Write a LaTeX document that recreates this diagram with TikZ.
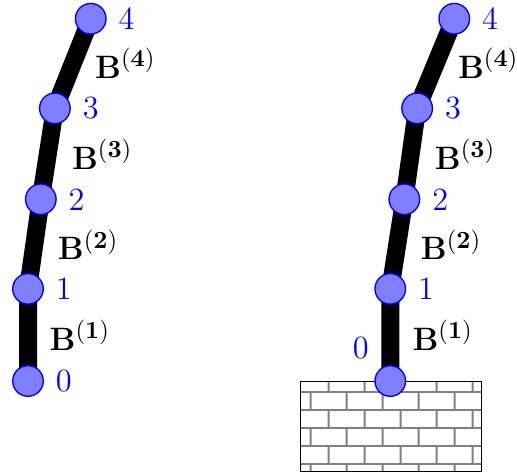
\documentclass[tikz,border=0pt]{standalone}
\usetikzlibrary{patterns,backgrounds,positioning}
\pgfdeclarepatternformonly{wallbricks}{\pgfpointorigin}{\pgfqpoint{16pt}{16pt}}{\pgfqpoint{16pt}{16pt}}{
    \pgfsetlinewidth{0.8pt}
    \pgfpathmoveto{\pgfqpoint{0pt}{5.33pt}}\pgfpathlineto{\pgfqpoint{16pt}{5.33pt}}
    \pgfpathmoveto{\pgfqpoint{0pt}{13.33pt}}\pgfpathlineto{\pgfqpoint{16pt}{13.33pt}}
    \pgfpathmoveto{\pgfqpoint{2.5pt}{5.33pt}}\pgfpathlineto{\pgfqpoint{2.5pt}{13.33pt}}
    \pgfpathmoveto{\pgfqpoint{10.5pt}{13.33pt}}\pgfpathlineto{\pgfqpoint{10.5pt}{16pt}}
    \pgfpathmoveto{\pgfqpoint{10.5pt}{0pt}}\pgfpathlineto{\pgfqpoint{10.5pt}{5.33pt}}
    \pgfusepath{stroke}
}
\tikzset{
    joint/.style={circle, draw=blue, fill=blue!50, semithick, minimum size=13.6pt, inner sep=0pt},
    beam/.style={line width=8pt},
    num/.style={text=blue, font=\Large, inner sep=0pt},
    stiff/.style={font=\fontsize{15.5}{18}\selectfont, inner sep=0pt}
}
\begin{document}
\begin{tikzpicture}
    \useasboundingbox (-0.4375,-1.484) rectangle (7.64,5.953);

    % Свободный стержень
    \node[joint] (a0) at (0,0) {};
    \node[joint] (a1) at (0,1.44) {};
    \node[joint] (a2) at (0.2,2.84) {};
    \node[joint] (a3) at (0.42,4.26) {};
    \node[joint] (a4) at (0.98,5.66) {};

    % Номера узлов
    \node[num, right=0.18cm of a0] (na0) {0};
    \node[num, right=0.18cm of a1] (na1) {1};
    \node[num, right=0.18cm of a2] (na2) {2};
    \node[num, right=0.18cm of a3] (na3) {3};
    \node[num, right=0.18cm of a4] (na4) {4};

    % Жёсткости
    \node[stiff] (ba1) at (0.81,0.71) {$\mathbf{B^{(1)}}$};
    \node[stiff] (ba2) at (0.94,2.13) {$\mathbf{B^{(2)}}$};
    \node[stiff] (ba3) at (1.16,3.54) {$\mathbf{B^{(3)}}$};
    \node[stiff] (ba4) at (1.52,4.96) {$\mathbf{B^{(4)}}$};

    % Закреплённый стержень
    \node[joint] (c0) at (5.66,0) {};
    \node[joint] (c1) at (5.66,1.44) {};
    \node[joint] (c2) at (5.88,2.84) {};
    \node[joint] (c3) at (6.08,4.26) {};
    \node[joint] (c4) at (6.66,5.66) {};

    \node[num, right=0.18cm of c1] (nc1) {1};
    \node[num, right=0.18cm of c2] (nc2) {2};
    \node[num, right=0.18cm of c3] (nc3) {3};
    \node[num, right=0.18cm of c4] (nc4) {4};
    \node[num] (nc0) at (5.2,0.52) {0};

    \node[stiff] (bc1) at (6.48,0.71) {$\mathbf{B^{(1)}}$};
    \node[stiff] (bc2) at (6.61,2.13) {$\mathbf{B^{(2)}}$};
    \node[stiff] (bc3) at (6.83,3.54) {$\mathbf{B^{(3)}}$};
    \node[stiff] (bc4) at (7.19,4.96) {$\mathbf{B^{(4)}}$};

    \begin{pgfonlayer}{background}
        % Стена
        \draw[pattern=wallbricks, pattern color=gray] (4.25,-1.41) rectangle (7.08,0);

        % Участки стержней
        \draw[beam] (a0.center) -- (a1.center) -- (a2.center) -- (a3.center) -- (a4.center);
        \draw[beam] (c0.center) -- (c1.center) -- (c2.center) -- (c3.center) -- (c4.center);
    \end{pgfonlayer}
\end{tikzpicture}
\end{document}
